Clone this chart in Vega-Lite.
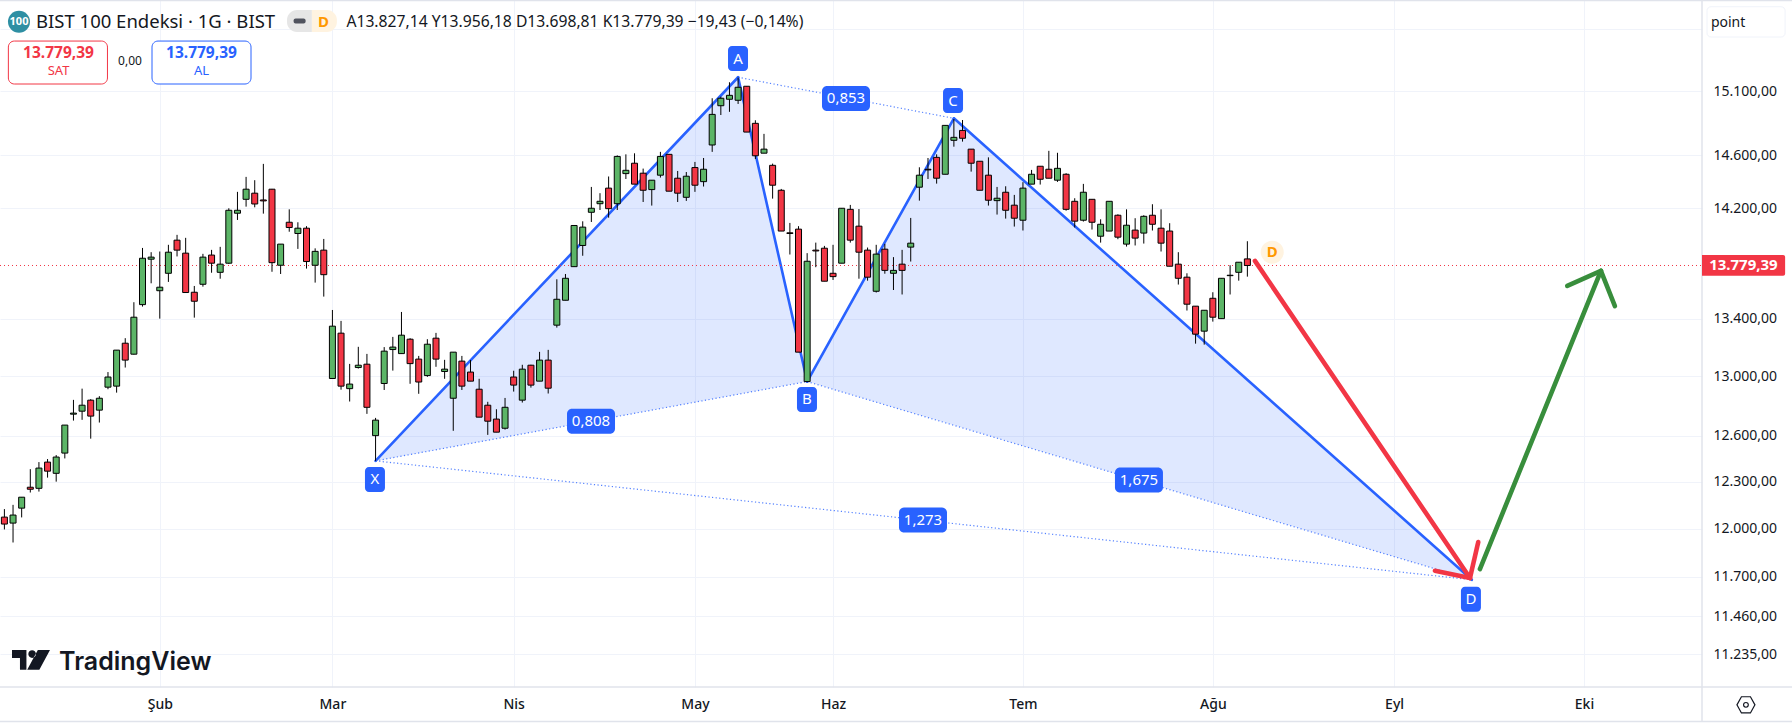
{
"$schema":"https://vega.github.io/schema/vega-lite/v6.json",
"autosize":"none",
"padding":{"left":0,"top":0,"right":90,"bottom":40},
"width":1702,
"height":687,
"background":"#ffffff",
"config":{"view":{"stroke":null},"font":"Noto Sans","text":{"font":"Noto Sans"}},
"datasets":{
"candles":[
{"bar":1,"open":12073,"high":12124,"low":11995,"close":12029,"dir":"down"},
{"bar":2,"open":12035,"high":12151,"low":11913,"close":12086,"dir":"up"},
{"bar":3,"open":12130,"high":12200,"low":12071,"close":12200,"dir":"up"},
{"bar":4,"open":12264,"high":12381,"low":12230,"close":12251,"dir":"down"},
{"bar":5,"open":12257,"high":12427,"low":12236,"close":12388,"dir":"up"},
{"bar":6,"open":12427,"high":12447,"low":12326,"close":12368,"dir":"down"},
{"bar":7,"open":12354,"high":12473,"low":12300,"close":12460,"dir":"up"},
{"bar":8,"open":12486,"high":12671,"low":12451,"close":12671,"dir":"up"},
{"bar":9,"open":12744,"high":12840,"low":12701,"close":12751,"dir":"up"},
{"bar":10,"open":12764,"high":12916,"low":12706,"close":12804,"dir":"up"},
{"bar":11,"open":12838,"high":12845,"low":12581,"close":12731,"dir":"down"},
{"bar":12,"open":12771,"high":12865,"low":12688,"close":12851,"dir":"up"},
{"bar":13,"open":12926,"high":13029,"low":12912,"close":12995,"dir":"up"},
{"bar":14,"open":12933,"high":13180,"low":12889,"close":13180,"dir":"up"},
{"bar":15,"open":13228,"high":13263,"low":13060,"close":13111,"dir":"down"},
{"bar":16,"open":13152,"high":13516,"low":13150,"close":13410,"dir":"up"},
{"bar":17,"open":13499,"high":13907,"low":13485,"close":13832,"dir":"up"},
{"bar":18,"open":13825,"high":13876,"low":13651,"close":13840,"dir":"up"},
{"bar":19,"open":13598,"high":13881,"low":13400,"close":13623,"dir":"up"},
{"bar":20,"open":13723,"high":13930,"low":13661,"close":13876,"dir":"up"},
{"bar":21,"open":13964,"high":14003,"low":13845,"close":13891,"dir":"down"},
{"bar":22,"open":13869,"high":13981,"low":13585,"close":13585,"dir":"down"},
{"bar":23,"open":13587,"high":13632,"low":13407,"close":13523,"dir":"down"},
{"bar":24,"open":13644,"high":13864,"low":13627,"close":13840,"dir":"up"},
{"bar":25,"open":13855,"high":13893,"low":13727,"close":13796,"dir":"down"},
{"bar":26,"open":13730,"high":13915,"low":13684,"close":13789,"dir":"up"},
{"bar":27,"open":13796,"high":14200,"low":13791,"close":14185,"dir":"up"},
{"bar":28,"open":14163,"high":14323,"low":14113,"close":14185,"dir":"up"},
{"bar":29,"open":14267,"high":14436,"low":14212,"close":14343,"dir":"up"},
{"bar":30,"open":14313,"high":14411,"low":14207,"close":14232,"dir":"down"},
{"bar":31,"open":14262,"high":14535,"low":14160,"close":14255,"dir":"down"},
{"bar":32,"open":14343,"high":14345,"low":13734,"close":13800,"dir":"down"},
{"bar":33,"open":13781,"high":13935,"low":13718,"close":13935,"dir":"up"},
{"bar":34,"open":14096,"high":14192,"low":14026,"close":14057,"dir":"down"},
{"bar":35,"open":14013,"high":14096,"low":13900,"close":14052,"dir":"up"},
{"bar":36,"open":14052,"high":14067,"low":13757,"close":13808,"dir":"down"},
{"bar":37,"open":13781,"high":13904,"low":13656,"close":13882,"dir":"up"},
{"bar":38,"open":13891,"high":13973,"low":13556,"close":13713,"dir":"down"},
{"bar":39,"open":12985,"high":13461,"low":12985,"close":13347,"dir":"up"},
{"bar":40,"open":13298,"high":13384,"low":12909,"close":12933,"dir":"down"},
{"bar":41,"open":12916,"high":13085,"low":12829,"close":12947,"dir":"up"},
{"bar":42,"open":13060,"high":13203,"low":13053,"close":13076,"dir":"up"},
{"bar":43,"open":13083,"high":13154,"low":12746,"close":12790,"dir":"down"},
{"bar":44,"open":12601,"high":12719,"low":12435,"close":12704,"dir":"up"},
{"bar":45,"open":12951,"high":13201,"low":12907,"close":13173,"dir":"up"},
{"bar":46,"open":13184,"high":13272,"low":13039,"close":13201,"dir":"up"},
{"bar":47,"open":13156,"high":13447,"low":13156,"close":13284,"dir":"up"},
{"bar":48,"open":13256,"high":13263,"low":12949,"close":13087,"dir":"down"},
{"bar":49,"open":13118,"high":13140,"low":12881,"close":12961,"dir":"down"},
{"bar":50,"open":13005,"high":13256,"low":12996,"close":13221,"dir":"up"},
{"bar":51,"open":13263,"high":13300,"low":13065,"close":13118,"dir":"down"},
{"bar":52,"open":13033,"high":13113,"low":12983,"close":13049,"dir":"up"},
{"bar":53,"open":12851,"high":13166,"low":12633,"close":13166,"dir":"up"},
{"bar":54,"open":13104,"high":13140,"low":12907,"close":12933,"dir":"down"},
{"bar":55,"open":13029,"high":13111,"low":12967,"close":12967,"dir":"down"},
{"bar":56,"open":12912,"high":12983,"low":12724,"close":12724,"dir":"down"},
{"bar":57,"open":12804,"high":12827,"low":12606,"close":12697,"dir":"down"},
{"bar":58,"open":12711,"high":12777,"low":12624,"close":12624,"dir":"down"},
{"bar":59,"open":12650,"high":12853,"low":12641,"close":12790,"dir":"up"},
{"bar":60,"open":12995,"high":13038,"low":12896,"close":12940,"dir":"down"},
{"bar":61,"open":12838,"high":13079,"low":12822,"close":13049,"dir":"up"},
{"bar":62,"open":13076,"high":13079,"low":12923,"close":12940,"dir":"down"},
{"bar":63,"open":12967,"high":13168,"low":12967,"close":13111,"dir":"up"},
{"bar":64,"open":13111,"high":13182,"low":12883,"close":12919,"dir":"down"},
{"bar":65,"open":13354,"high":13680,"low":13337,"close":13537,"dir":"up"},
{"bar":66,"open":13530,"high":13718,"low":13530,"close":13687,"dir":"up"},
{"bar":67,"open":13771,"high":14072,"low":13771,"close":14072,"dir":"up"},
{"bar":68,"open":13925,"high":14103,"low":13850,"close":14060,"dir":"up"},
{"bar":69,"open":14170,"high":14360,"low":14098,"close":14200,"dir":"up"},
{"bar":70,"open":14234,"high":14313,"low":14187,"close":14252,"dir":"up"},
{"bar":71,"open":14351,"high":14439,"low":14130,"close":14197,"dir":"down"},
{"bar":72,"open":14234,"high":14600,"low":14187,"close":14592,"dir":"up"},
{"bar":73,"open":14461,"high":14608,"low":14420,"close":14486,"dir":"up"},
{"bar":74,"open":14540,"high":14616,"low":14381,"close":14381,"dir":"down"},
{"bar":75,"open":14464,"high":14499,"low":14247,"close":14335,"dir":"down"},
{"bar":76,"open":14340,"high":14411,"low":14220,"close":14411,"dir":"up"},
{"bar":77,"open":14449,"high":14627,"low":14431,"close":14592,"dir":"up"},
{"bar":78,"open":14608,"high":14608,"low":14328,"close":14328,"dir":"down"},
{"bar":79,"open":14426,"high":14481,"low":14247,"close":14313,"dir":"down"},
{"bar":80,"open":14282,"high":14473,"low":14255,"close":14441,"dir":"up"},
{"bar":81,"open":14507,"high":14550,"low":14323,"close":14373,"dir":"down"},
{"bar":82,"open":14400,"high":14580,"low":14363,"close":14494,"dir":"up"},
{"bar":83,"open":14680,"high":15045,"low":14627,"close":14918,"dir":"up"},
{"bar":84,"open":14986,"high":15058,"low":14913,"close":15045,"dir":"up"},
{"bar":85,"open":15037,"high":15172,"low":14938,"close":15068,"dir":"up"},
{"bar":86,"open":15029,"high":15209,"low":15000,"close":15132,"dir":"up"},
{"bar":87,"open":15140,"high":15140,"low":14780,"close":14780,"dir":"down"},
{"bar":88,"open":14848,"high":14872,"low":14572,"close":14597,"dir":"down"},
{"bar":89,"open":14617,"high":14766,"low":14617,"close":14648,"dir":"up"},
{"bar":90,"open":14524,"high":14537,"low":14272,"close":14373,"dir":"down"},
{"bar":91,"open":14335,"high":14345,"low":14031,"close":14031,"dir":"down"},
{"bar":92,"open":14018,"high":14091,"low":13859,"close":14013,"dir":"down"},
{"bar":93,"open":14045,"high":14067,"low":13166,"close":13166,"dir":"down"},
{"bar":94,"open":12964,"high":13869,"low":12964,"close":13810,"dir":"up"},
{"bar":95,"open":13891,"high":13946,"low":13767,"close":13885,"dir":"down"},
{"bar":96,"open":13905,"high":13922,"low":13666,"close":13666,"dir":"down"},
{"bar":97,"open":13723,"high":13930,"low":13675,"close":13699,"dir":"down"},
{"bar":98,"open":13796,"high":14200,"low":13796,"close":14200,"dir":"up"},
{"bar":99,"open":14192,"high":14225,"low":13946,"close":13964,"dir":"down"},
{"bar":100,"open":14067,"high":14194,"low":13684,"close":13876,"dir":"down"},
{"bar":101,"open":13891,"high":13910,"low":13670,"close":13695,"dir":"down"},
{"bar":102,"open":13594,"high":13930,"low":13585,"close":13862,"dir":"up"},
{"bar":103,"open":13898,"high":13937,"low":13720,"close":13744,"dir":"down"},
{"bar":104,"open":13723,"high":13840,"low":13603,"close":13744,"dir":"up"},
{"bar":105,"open":13789,"high":13893,"low":13571,"close":13744,"dir":"down"},
{"bar":106,"open":13913,"high":14128,"low":13808,"close":13942,"dir":"up"},
{"bar":107,"open":14358,"high":14509,"low":14257,"close":14449,"dir":"up"},
{"bar":108,"open":14494,"high":14580,"low":14420,"close":14489,"dir":"down"},
{"bar":109,"open":14585,"high":14608,"low":14385,"close":14426,"dir":"down"},
{"bar":110,"open":14456,"high":14832,"low":14456,"close":14832,"dir":"up"},
{"bar":111,"open":14716,"high":14882,"low":14667,"close":14739,"dir":"up"},
{"bar":112,"open":14793,"high":14874,"low":14706,"close":14732,"dir":"down"},
{"bar":113,"open":14648,"high":14648,"low":14476,"close":14540,"dir":"down"},
{"bar":114,"open":14555,"high":14555,"low":14335,"close":14335,"dir":"down"},
{"bar":115,"open":14449,"high":14585,"low":14220,"close":14260,"dir":"down"},
{"bar":116,"open":14257,"high":14360,"low":14153,"close":14275,"dir":"up"},
{"bar":117,"open":14320,"high":14365,"low":14123,"close":14185,"dir":"down"},
{"bar":118,"open":14223,"high":14300,"low":14064,"close":14126,"dir":"down"},
{"bar":119,"open":14111,"high":14396,"low":14035,"close":14351,"dir":"up"},
{"bar":120,"open":14381,"high":14489,"low":14381,"close":14456,"dir":"up"},
{"bar":121,"open":14517,"high":14517,"low":14378,"close":14418,"dir":"down"},
{"bar":122,"open":14494,"high":14635,"low":14426,"close":14426,"dir":"down"},
{"bar":123,"open":14411,"high":14620,"low":14398,"close":14501,"dir":"up"},
{"bar":124,"open":14456,"high":14464,"low":14182,"close":14192,"dir":"down"},
{"bar":125,"open":14252,"high":14275,"low":14057,"close":14104,"dir":"down"},
{"bar":126,"open":14111,"high":14383,"low":14101,"close":14320,"dir":"up"},
{"bar":127,"open":14267,"high":14267,"low":14042,"close":14096,"dir":"down"},
{"bar":128,"open":13993,"high":14118,"low":13946,"close":14081,"dir":"up"},
{"bar":129,"open":14031,"high":14252,"low":14031,"close":14252,"dir":"up"},
{"bar":130,"open":14148,"high":14155,"low":13971,"close":13986,"dir":"down"},
{"bar":131,"open":13935,"high":14192,"low":13917,"close":14074,"dir":"up"},
{"bar":132,"open":14038,"high":14126,"low":13925,"close":13979,"dir":"down"},
{"bar":133,"open":14016,"high":14148,"low":13939,"close":14140,"dir":"up"},
{"bar":134,"open":14148,"high":14230,"low":14035,"close":14081,"dir":"down"},
{"bar":135,"open":14052,"high":14192,"low":13881,"close":13942,"dir":"down"},
{"bar":136,"open":14031,"high":14089,"low":13774,"close":13774,"dir":"down"},
{"bar":137,"open":13789,"high":13876,"low":13642,"close":13687,"dir":"down"},
{"bar":138,"open":13695,"high":13723,"low":13457,"close":13502,"dir":"down"},
{"bar":139,"open":13488,"high":13488,"low":13225,"close":13291,"dir":"down"},
{"bar":140,"open":13312,"high":13459,"low":13218,"close":13459,"dir":"up"},
{"bar":141,"open":13544,"high":13587,"low":13379,"close":13410,"dir":"down"},
{"bar":142,"open":13400,"high":13687,"low":13400,"close":13687,"dir":"up"},
{"bar":143,"open":13706,"high":13781,"low":13571,"close":13709,"dir":"up"},
{"bar":144,"open":13730,"high":13803,"low":13670,"close":13803,"dir":"up"},
{"bar":145,"open":13827.14,"high":13956.18,"low":13698.81,"close":13779.39,"dir":"down"}
],
"fills":[
{"tri":"XAB","bar":44,"price":12435,"price2":12435},
{"tri":"XAB","bar":86,"price":15212,"price2":12878},
{"tri":"XAB","bar":94,"price":12964,"price2":12964},
{"tri":"BCD","bar":94,"price":12964,"price2":12964},
{"tri":"BCD","bar":111,"price":14887,"price2":12670},
{"tri":"BCD","bar":171,"price":11682,"price2":11682}
],
"segments":[
{"series":"ratio","bar":44,"price":12435,"bar2":94,"price2":12964},
{"series":"ratio","bar":86,"price":15212,"bar2":111,"price2":14887},
{"series":"ratio","bar":94,"price":12964,"bar2":171,"price2":11682},
{"series":"ratio","bar":44,"price":12435,"bar2":171,"price2":11682},
{"series":"leg","bar":44,"price":12435,"bar2":86,"price2":15212},
{"series":"leg","bar":86,"price":15212,"bar2":94,"price2":12964},
{"series":"leg","bar":94,"price":12964,"bar2":111,"price2":14887},
{"series":"leg","bar":111,"price":14887,"bar2":171,"price2":11682},
{"series":"last","bar":0.49,"price":13779.39,"bar2":197.67,"price2":13779.39},
{"series":"sell","bar":145.88,"price":13813,"bar2":170.79,"price2":11693},
{"series":"sell","bar":166.73,"price":11737,"bar2":170.79,"price2":11693},
{"series":"sell","bar":171.75,"price":11916,"bar2":170.79,"price2":11693},
{"series":"buy","bar":171.94,"price":11748,"bar2":185.96,"price2":13741},
{"series":"buy","bar":182.06,"price":13632,"bar2":185.96,"price2":13741},
{"series":"buy","bar":187.58,"price":13488,"bar2":185.96,"price2":13741},
{"series":"frame","bar":0.49,"price":15838,"bar2":208.1,"price2":15838},
{"series":"frame","bar":0.49,"price":11042,"bar2":208.1,"price2":11042},
{"series":"frame","bar":0.49,"price":10843,"bar2":208.1,"price2":10843},
{"series":"frame","bar":197.67,"price":15842,"bar2":197.67,"price2":10843}
],
"badges":[
{"bar":85.99,"price":15362,"text":"A","kind":"point"},
{"bar":110.9,"price":15027,"text":"C","kind":"point"},
{"bar":93.98,"price":12843,"text":"B","kind":"point"},
{"bar":43.93,"price":12314,"text":"X","kind":"point"},
{"bar":170.9,"price":11563,"text":"D","kind":"point"},
{"bar":98.5,"price":15043,"text":"0,853","kind":"ratio"},
{"bar":68.96,"price":12696,"text":"0,808","kind":"ratio"},
{"bar":132.44,"price":12311,"text":"1,675","kind":"ratio"},
{"bar":107.42,"price":12054,"text":"1,273","kind":"ratio"}
],
"boxes":[
{"name":"sat","bar":1.46,"bar2":12.94,"price":15504,"price2":15158},
{"name":"al","bar":18.1,"bar2":29.57,"price":15504,"price2":15158},
{"name":"pillL","bar":33.74,"bar2":36.62,"price":15759,"price2":15578},
{"name":"pillR","bar":36.62,"bar2":39.52,"price":15759,"price2":15578},
{"name":"lastTag","bar":197.67,"bar2":207.3,"price":13856,"price2":13706},
{"name":"unit","bar":198.25,"bar2":207.3,"price":15786,"price2":15537}
],
"notes":[
{"kind":"title","bar":4.66,"price":15662,"text":"BIST 100 Endeksi · 1G · BIST"},
{"kind":"ohlc","bar":40.62,"price":15662,"text":"A13.827,14 Y13.956,18 D13.698,81 K13.779,39 −19,43 (−0,14%)"},
{"kind":"logo100","bar":2.69,"price":15662,"text":"100"},
{"kind":"orangeD","bar":37.96,"price":15662,"text":"D"},
{"kind":"orangeD","bar":147.88,"price":13876,"text":"D"},
{"kind":"red14","bar":7.27,"price":15403,"text":"13.779,39"},
{"kind":"red12","bar":7.27,"price":15262,"text":"SAT"},
{"kind":"blue14","bar":23.83,"price":15403,"text":"13.779,39"},
{"kind":"blue12","bar":23.83,"price":15262,"text":"AL"},
{"kind":"zero","bar":15.55,"price":15342,"text":"0,00"},
{"kind":"lastTag","bar":202.47,"price":13779.39,"text":"13.779,39"},
{"kind":"unit","bar":198.7,"price":15652,"text":"point"},
{"kind":"brand","bar":7.33,"price":11190,"text":"TradingView"}
],
"marks":[
{"kind":"dot100","bar":2.69,"price":15662},
{"kind":"dotD","bar":147.88,"price":13876},
{"kind":"dash","bar":35.2,"price":15668},
{"kind":"logo","bar":4.08,"price":11201},
{"kind":"hex","bar":202.76,"price":10939}
]
},
"encoding":{
"x":{"field":"bar","type":"quantitative","title":null,"scale":{"domain":[0.49,197.67],"nice":false,"zero":false,"padding":0},
"axis":{"orient":"bottom","values":[19,39,60,81,97,119,141,162,184],"labelExpr":"datum.value==19?'Şub':datum.value==39?'Mar':datum.value==60?'Nis':datum.value==81?'May':datum.value==97?'Haz':datum.value==119?'Tem':datum.value==141?'Ağu':datum.value==162?'Eyl':'Eki'","grid":true,"gridColor":"#f0f3fa","gridWidth":1,"domain":false,"ticks":false,"labelPadding":10,"labelFont":"Noto Sans","labelFontSize":14,"labelFontWeight":500,"labelColor":"#131722","labelOverlap":false,"labelFlush":false}},
"y":{"field":"price","type":"quantitative","title":null,"scale":{"type":"log","domain":[11042,15842],"nice":false,"zero":false},
"axis":{"orient":"right","values":[15600,15100,14600,14200,13400,13000,12600,12300,12000,11700,11460,11235],"labelExpr":"datum.value==15600?'':replace(replace(replace(format(datum.value,',.2f'),',','_'),'.',','),'_','.')","grid":true,"gridColor":"#f0f3fa","gridWidth":1,"domain":false,"ticks":false,"labelPadding":11,"labelFont":"Noto Sans","labelFontSize":14,"labelColor":"#131722","labelOverlap":false,"labelFlush":false}}
},
"layer":[
{"data":{"name":"fills"},"mark":{"type":"area","color":"#2962ff","opacity":0.15,"clip":false},"encoding":{"y2":{"field":"price2"},"detail":{"field":"tri"}}},
{"data":{"name":"segments"},"transform":[{"filter":"datum.series=='frame'"}],"mark":{"type":"rule","color":"#e0e3eb","strokeWidth":1.5},"encoding":{"x2":{"field":"bar2"},"y2":{"field":"price2"}}},
{"data":{"name":"segments"},"transform":[{"filter":"datum.series=='ratio'"}],"mark":{"type":"rule","color":"#2962ff","strokeWidth":1.2,"strokeDash":[1.2,2.4],"opacity":0.8},"encoding":{"x2":{"field":"bar2"},"y2":{"field":"price2"}}},
{"data":{"name":"segments"},"transform":[{"filter":"datum.series=='leg'"}],"mark":{"type":"rule","color":"#2962ff","strokeWidth":2.6,"strokeCap":"round"},"encoding":{"x2":{"field":"bar2"},"y2":{"field":"price2"}}},
{"data":{"name":"segments"},"transform":[{"filter":"datum.series=='last'"}],"mark":{"type":"rule","color":"#f23645","strokeWidth":1,"strokeDash":[1,3]},"encoding":{"x2":{"field":"bar2"},"y2":{"field":"price2"}}},
{"data":{"name":"candles"},"mark":{"type":"rule","color":"#000000","strokeWidth":1},"encoding":{"y":{"field":"low"},"y2":{"field":"high"}}},
{"data":{"name":"candles"},"mark":{"type":"bar","size":6,"stroke":"#000000","strokeWidth":1},"encoding":{"y":{"field":"open"},"y2":{"field":"close"},"color":{"field":"dir","type":"nominal","scale":{"domain":["up","down"],"range":["#5cb567","#f23645"]},"legend":null}}},
{"data":{"name":"segments"},"transform":[{"filter":"datum.series=='sell'"}],"mark":{"type":"rule","color":"#f23645","strokeWidth":4.6,"strokeCap":"round"},"encoding":{"x2":{"field":"bar2"},"y2":{"field":"price2"}}},
{"data":{"name":"segments"},"transform":[{"filter":"datum.series=='buy'"}],"mark":{"type":"rule","color":"#388e3c","strokeWidth":4.6,"strokeCap":"round"},"encoding":{"x2":{"field":"bar2"},"y2":{"field":"price2"}}},
{"data":{"name":"badges"},"transform":[{"filter":"datum.kind=='point'"}],"mark":{"type":"rect","width":20,"height":25,"cornerRadius":4,"color":"#2962ff"}},
{"data":{"name":"badges"},"transform":[{"filter":"datum.kind=='ratio'"}],"mark":{"type":"rect","width":48,"height":25,"cornerRadius":5,"color":"#2962ff"}},
{"data":{"name":"badges"},"mark":{"type":"text","color":"#ffffff","fontSize":15,"baseline":"middle","align":"center","font":"Noto Sans"},"encoding":{"text":{"field":"text"}}},
{"data":{"name":"boxes"},"transform":[{"filter":"datum.name=='sat'"}],"mark":{"type":"rect","fill":"#ffffff","stroke":"#f23645","strokeWidth":1,"cornerRadius":6},"encoding":{"x2":{"field":"bar2"},"y2":{"field":"price2"}}},
{"data":{"name":"boxes"},"transform":[{"filter":"datum.name=='al'"}],"mark":{"type":"rect","fill":"#ffffff","stroke":"#2962ff","strokeWidth":1,"cornerRadius":6},"encoding":{"x2":{"field":"bar2"},"y2":{"field":"price2"}}},
{"data":{"name":"boxes"},"transform":[{"filter":"datum.name=='pillL'"}],"mark":{"type":"rect","fill":"#e6e6e6","cornerRadiusTopLeft":10,"cornerRadiusBottomLeft":10},"encoding":{"x2":{"field":"bar2"},"y2":{"field":"price2"}}},
{"data":{"name":"boxes"},"transform":[{"filter":"datum.name=='pillR'"}],"mark":{"type":"rect","fill":"#fff3e0","cornerRadiusTopRight":10,"cornerRadiusBottomRight":10},"encoding":{"x2":{"field":"bar2"},"y2":{"field":"price2"}}},
{"data":{"name":"boxes"},"transform":[{"filter":"datum.name=='lastTag'"}],"mark":{"type":"rect","fill":"#f23645","cornerRadiusTopRight":2,"cornerRadiusBottomRight":2},"encoding":{"x2":{"field":"bar2"},"y2":{"field":"price2"}}},
{"data":{"name":"boxes"},"transform":[{"filter":"datum.name=='unit'"}],"mark":{"type":"rect","fill":"#ffffff","stroke":"#f0f3fa","strokeWidth":1,"cornerRadius":4},"encoding":{"x2":{"field":"bar2"},"y2":{"field":"price2"}}},
{"data":{"name":"marks"},"transform":[{"filter":"datum.kind=='dot100'"}],"mark":{"type":"point","shape":"circle","filled":true,"size":484,"color":"#2e8fa3","opacity":1}},
{"data":{"name":"marks"},"transform":[{"filter":"datum.kind=='dotD'"}],"mark":{"type":"point","shape":"circle","filled":true,"size":529,"color":"#fff3e0","opacity":1}},
{"data":{"name":"marks"},"transform":[{"filter":"datum.kind=='dash'"}],"mark":{"type":"rect","width":12,"height":5,"cornerRadius":2,"color":"#50535e"}},
{"data":{"name":"marks"},"transform":[{"filter":"datum.kind=='logo'"}],"mark":{"type":"point","filled":true,"size":5776,"color":"#131722","opacity":1,"shape":"M-0.5,-0.26 H-0.12 V0.26 H-0.29 V-0.05 H-0.5 Z M-0.07,-0.15 a0.1,0.1 0 1,0 0.2,0 a0.1,0.1 0 1,0 -0.2,0 Z M0.18,-0.26 H0.5 L0.22,0.26 H-0.1 Z"}},
{"data":{"name":"marks"},"transform":[{"filter":"datum.kind=='hex'"}],"mark":{"type":"point","filled":false,"size":1296,"stroke":"#131722","strokeWidth":1.2,"opacity":1,"shape":"M-0.5,0 L-0.25,-0.45 L0.25,-0.45 L0.5,0 L0.25,0.45 L-0.25,0.45 Z M-0.13,0 a0.13,0.13 0 1,0 0.26,0 a0.13,0.13 0 1,0 -0.26,0 Z"}},
{"data":{"name":"notes"},"transform":[{"filter":"datum.kind=='title'"}],"mark":{"type":"text","align":"left","baseline":"middle","fontSize":18.5,"color":"#131722"},"encoding":{"text":{"field":"text"}}},
{"data":{"name":"notes"},"transform":[{"filter":"datum.kind=='ohlc'"}],"mark":{"type":"text","align":"left","baseline":"middle","fontSize":15.7,"color":"#131722"},"encoding":{"text":{"field":"text"}}},
{"data":{"name":"notes"},"transform":[{"filter":"datum.kind=='logo100'"}],"mark":{"type":"text","align":"center","baseline":"middle","fontSize":11,"fontWeight":"bold","color":"#ffffff"},"encoding":{"text":{"field":"text"}}},
{"data":{"name":"notes"},"transform":[{"filter":"datum.kind=='orangeD'"}],"mark":{"type":"text","align":"center","baseline":"middle","fontSize":15,"fontWeight":"bold","color":"#ff9800"},"encoding":{"text":{"field":"text"}}},
{"data":{"name":"notes"},"transform":[{"filter":"datum.kind=='red14'"}],"mark":{"type":"text","align":"center","baseline":"middle","fontSize":15.5,"fontWeight":"bold","color":"#f23645"},"encoding":{"text":{"field":"text"}}},
{"data":{"name":"notes"},"transform":[{"filter":"datum.kind=='red12'"}],"mark":{"type":"text","align":"center","baseline":"middle","fontSize":13,"color":"#f23645"},"encoding":{"text":{"field":"text"}}},
{"data":{"name":"notes"},"transform":[{"filter":"datum.kind=='blue14'"}],"mark":{"type":"text","align":"center","baseline":"middle","fontSize":15.5,"fontWeight":"bold","color":"#2962ff"},"encoding":{"text":{"field":"text"}}},
{"data":{"name":"notes"},"transform":[{"filter":"datum.kind=='blue12'"}],"mark":{"type":"text","align":"center","baseline":"middle","fontSize":13,"color":"#2962ff"},"encoding":{"text":{"field":"text"}}},
{"data":{"name":"notes"},"transform":[{"filter":"datum.kind=='zero'"}],"mark":{"type":"text","align":"center","baseline":"middle","fontSize":12,"color":"#131722"},"encoding":{"text":{"field":"text"}}},
{"data":{"name":"notes"},"transform":[{"filter":"datum.kind=='lastTag'"}],"mark":{"type":"text","align":"center","baseline":"middle","fontSize":15,"fontWeight":"bold","color":"#ffffff"},"encoding":{"text":{"field":"text"}}},
{"data":{"name":"notes"},"transform":[{"filter":"datum.kind=='unit'"}],"mark":{"type":"text","align":"left","baseline":"middle","fontSize":14,"color":"#131722"},"encoding":{"text":{"field":"text"}}},
{"data":{"name":"notes"},"transform":[{"filter":"datum.kind=='brand'"}],"mark":{"type":"text","align":"left","baseline":"middle","fontSize":25,"fontWeight":600,"font":"Inter","color":"#131722"},"encoding":{"text":{"field":"text"}}}
]
}
